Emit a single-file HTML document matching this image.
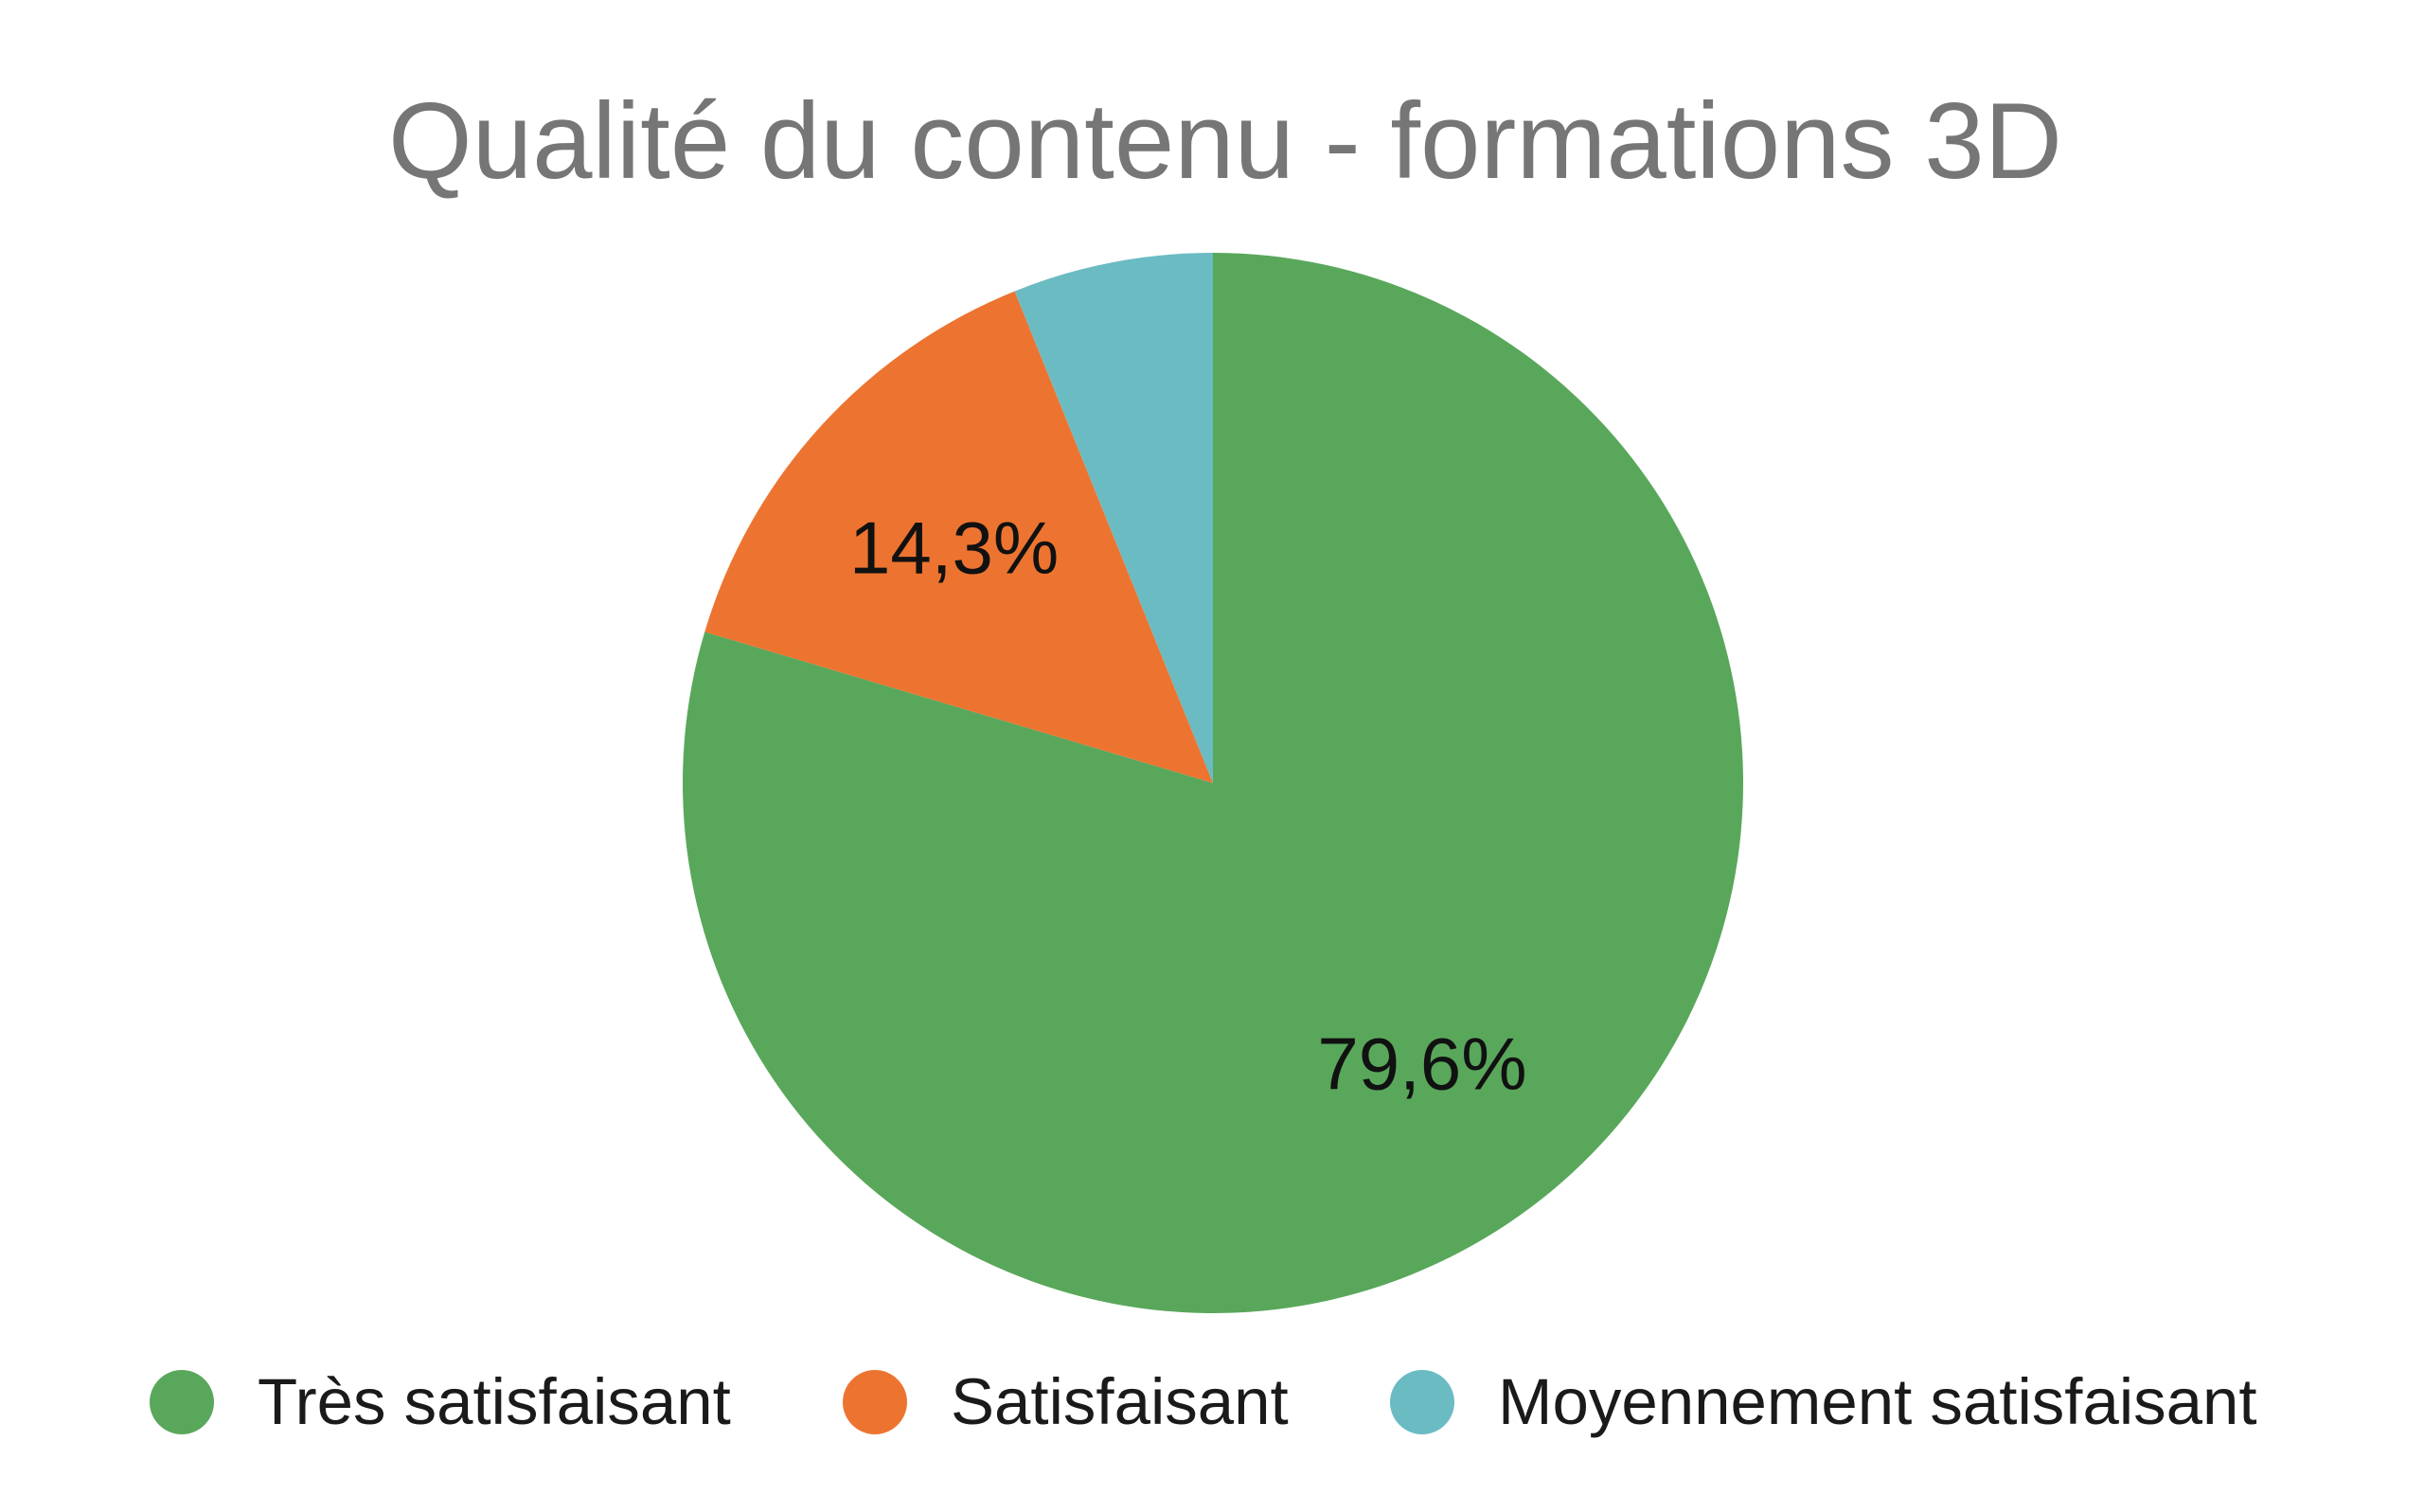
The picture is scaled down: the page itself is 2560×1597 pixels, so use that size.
<!DOCTYPE html>
<html><head><meta charset="utf-8"><style>
html,body{margin:0;padding:0;background:#fff;width:2560px;height:1597px;overflow:hidden}
svg{display:block;font-family:"Liberation Sans",Arial,sans-serif}
</style></head><body>
<svg id="chart" width="2560" height="1597" viewBox="0 0 2560 1597">
<text x="1294" y="188" text-anchor="middle" font-size="114" fill="#767676">Qualité du contenu - formations 3D</text>
<g id="slices"></g>
<g id="labels"></g>
<g id="legend"></g>
</svg>
<script>
const categories = ["Très satisfaisant", "Satisfaisant", "Moyennement satisfaisant"];
const values = [79.6, 14.3, 6.1];
const valueLabels = ["79,6%", "14,3%", ""];
const colors = ["#59a75b", "#ed7430", "#6bbbc3"];
const cx = 1281, cy = 827, r = 560;
const NS = "http://www.w3.org/2000/svg";
const total = values.reduce((a, b) => a + b, 0);
function pt(frac, rad) { const a = frac * 2 * Math.PI; return [cx + rad * Math.sin(a), cy - rad * Math.cos(a)]; }
let acc = 0;
const gS = document.getElementById("slices"), gL = document.getElementById("labels"), gLeg = document.getElementById("legend");
values.forEach((v, i) => {
  const f0 = acc / total, f1 = (acc + v) / total; acc += v;
  const [x0, y0] = pt(f0, r), [x1, y1] = pt(f1, r);
  const large = (f1 - f0) > 0.5 ? 1 : 0;
  const p = document.createElementNS(NS, "path");
  p.setAttribute("d", `M${cx},${cy} L${x0},${y0} A${r},${r} 0 ${large} 1 ${x1},${y1} Z`);
  p.setAttribute("fill", colors[i]);
  
  
  gS.appendChild(p);
  if (valueLabels[i]) {
    const [lx, ly] = pt((f0 + f1) / 2, r * 0.66);
    const t = document.createElementNS(NS, "text");
    t.setAttribute("x", lx); t.setAttribute("y", ly + 27);
    t.setAttribute("text-anchor", "middle"); t.setAttribute("font-size", "78"); t.setAttribute("fill", "#111");
    t.textContent = valueLabels[i];
    
    
    gL.appendChild(t);
  }
});
const legX = [192, 924, 1502];
categories.forEach((c, i) => {
  const g = document.createElementNS(NS, "g");
  
  
  const ci = document.createElementNS(NS, "circle");
  ci.setAttribute("cx", legX[i]); ci.setAttribute("cy", 1481); ci.setAttribute("r", 34); ci.setAttribute("fill", colors[i]);
  
  
  const t = document.createElementNS(NS, "text");
  t.setAttribute("x", legX[i] + 80); t.setAttribute("y", 1504); t.setAttribute("font-size", "69"); t.setAttribute("fill", "#1a1a1a");
  t.textContent = c;
  
  
  g.appendChild(ci); g.appendChild(t); gLeg.appendChild(g);
});
</script>
</body></html>
